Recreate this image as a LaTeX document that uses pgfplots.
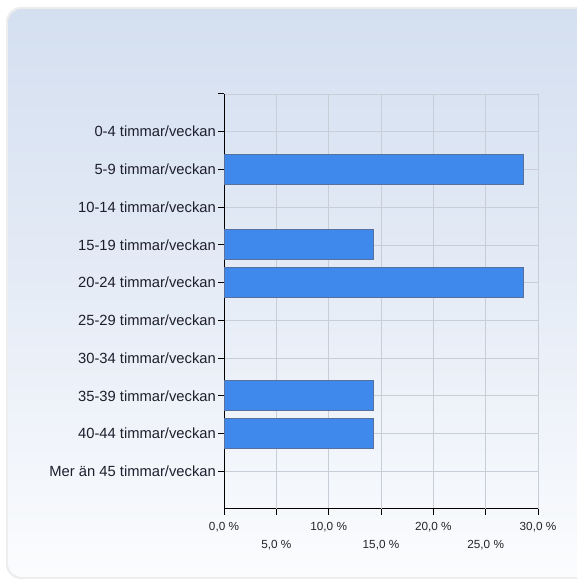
\documentclass[border=0pt]{standalone}
\usepackage{pgfplots}
\pgfplotsset{compat=1.18}
\usepackage{fontspec}
\setmainfont{Liberation Sans}
\definecolor{barfill}{RGB}{62,137,235}
\definecolor{barline}{RGB}{88,112,158}
\definecolor{gridc}{RGB}{200,206,216}
\definecolor{bgtop}{RGB}{212,223,240}
\definecolor{bgbot}{RGB}{251,252,254}
\definecolor{txt}{RGB}{30,30,45}
\begin{document}
\begin{tikzpicture}[x=1bp,y=1bp]
\useasboundingbox (0,0) rectangle (577,580);
\clip (0,0) rectangle (577,580);
\fill[white] (0,0) rectangle (577,580);
\fill[black!7, rounded corners=15] (6,1) rectangle (610,573);
\shade[top color=bgtop, bottom color=bgbot, middle color=bgtop!55!bgbot, rounded corners=14] (8,3) rectangle (608,571);
\begin{axis}[at={(224bp,71bp)}, anchor=south west, scale only axis,
  width=314bp, height=415bp,
  xbar, xmin=0, xmax=30, ymin=0, ymax=11,
  bar width=30bp,
  axis x line*=bottom, axis y line*=left,
  axis line style={black, line width=1bp, -},
  xtick={0,10,20,30},
  xticklabels={{0,0 \%},{10,0 \%},{20,0 \%},{30,0 \%}},
  extra x ticks={5,15,25},
  extra x tick labels={{5,0 \%},{15,0 \%},{25,0 \%}},
  extra x tick style={grid=major, tick label style={yshift=-18bp}},
  ytick={1,...,11},
  yticklabels={Mer än 45 timmar/veckan,40-44 timmar/veckan,35-39 timmar/veckan,30-34 timmar/veckan,25-29 timmar/veckan,20-24 timmar/veckan,15-19 timmar/veckan,10-14 timmar/veckan,5-9 timmar/veckan,0-4 timmar/veckan,{}},
  tick align=outside, major tick length=6bp,
  tick style={black, line width=1bp},
  grid=major, grid style={gridc, line width=0.8bp},
  x tick label style={font=\fontsize{11.8}{13}\selectfont, text=black!85, inner sep=1bp, yshift=-6bp},
  y tick label style={font=\fontsize{14.8}{17}\selectfont, text=txt, inner sep=2bp},
]
\addplot[fill=barfill, draw=barline, line width=1bp] coordinates {
  (28.57,9) (14.29,7) (28.57,6) (14.29,3) (14.29,2)
};
\end{axis}
\end{tikzpicture}
\end{document}
